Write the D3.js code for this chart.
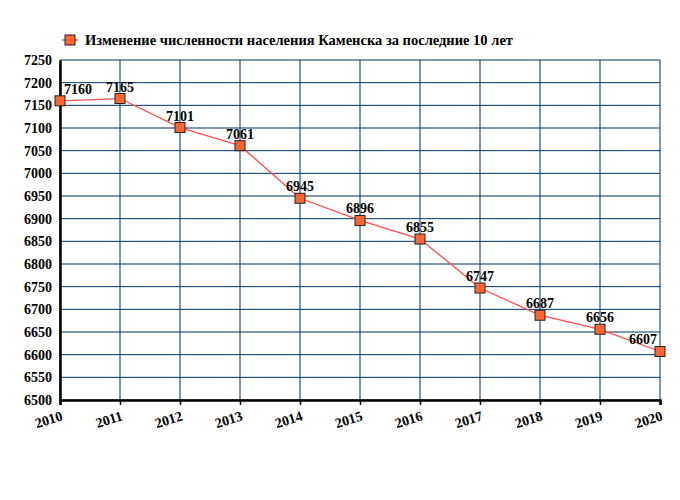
<!DOCTYPE html>
<html><head><meta charset="utf-8">
<script src="https://cdn.jsdelivr.net/npm/d3@7"></script>
<style>body{margin:0;background:#fff} svg text{font-family:"Liberation Serif","Times New Roman",serif !important;font-weight:bold}</style>
</head><body><svg id="c" width="680" height="500"></svg>
<script>
const years = [2010,2011,2012,2013,2014,2015,2016,2017,2018,2019,2020];
const population = [7160,7165,7101,7061,6945,6896,6855,6747,6687,6656,6607];
const yTicks = [6500,6550,6600,6650,6700,6750,6800,6850,6900,6950,7000,7050,7100,7150,7200,7250];
const seriesName = "Изменение численности населения Каменска за последние 10 лет";

const svg = d3.select("#c");
const L=60,R=660,T=60,B=400;
const x = d3.scaleLinear().domain([2010,2020]).range([L,R]);
const y = d3.scaleLinear().domain([6500,7250]).range([B,T]);

const g = svg.append("g");
g.selectAll(".hy").data(yTicks).enter().append("line")
  .attr("x1",L).attr("x2",R).attr("y1",d=>y(d)).attr("y2",d=>y(d))
  .attr("stroke","#003366").attr("stroke-width",1);
g.selectAll(".vx").data(years).enter().append("line")
  .attr("x1",d=>x(d)).attr("x2",d=>x(d)).attr("y1",T).attr("y2",B)
  .attr("stroke","#003366").attr("stroke-width",1);

const yAxis = d3.axisLeft(y).tickValues(yTicks).tickSize(0).tickPadding(8).tickFormat(d3.format("d"));
const ya = svg.append("g").attr("transform",`translate(${L},0)`).call(yAxis);
ya.select(".domain").attr("stroke","#000").attr("stroke-width",2.5);
ya.selectAll("text").attr("font-size",14).attr("fill","#000");

const xAxis = d3.axisBottom(x).tickValues(years).tickSize(5).tickFormat(d3.format("d"));
const xa = svg.append("g").attr("transform",`translate(0,${B})`).call(xAxis);
xa.select(".domain").attr("stroke","#000").attr("stroke-width",2.5);
xa.selectAll(".tick line").attr("stroke","#000").attr("stroke-width",1.5);
xa.selectAll("text").attr("font-size",14).attr("fill","#000")
  .attr("text-anchor","end").attr("dy",0).attr("y",0)
  .attr("transform","translate(3,20) rotate(-17)");

const data = years.map((yr,i)=>({yr,v:population[i]}));
svg.append("path").datum(data)
  .attr("d",d3.line().x(d=>x(d.yr)).y(d=>y(d.v)))
  .attr("fill","none").attr("stroke","#ff4d4d").attr("stroke-width",1.3);

svg.selectAll(".m").data(data).enter().append("rect")
  .attr("x",d=>x(d.yr)-5).attr("y",d=>y(d.v)-5).attr("width",10).attr("height",10)
  .attr("fill","#ff6633").attr("stroke","#222").attr("stroke-width",1);

svg.selectAll(".lb").data(data).enter().append("text")
  .attr("x",d=>{let c=x(d.yr); return Math.min(Math.max(c,L+18),R-17);})
  .attr("y",d=>y(d.v)-7)
  .attr("text-anchor","middle")
  .attr("font-size",14).attr("fill","#000")
  .text(d=>d.v);

svg.append("line").attr("x1",62).attr("x2",78).attr("y1",40).attr("y2",40).attr("stroke","#ff4d4d").attr("stroke-width",1.3);
svg.append("rect").attr("x",65).attr("y",35).attr("width",10).attr("height",10).attr("fill","#ff6633").attr("stroke","#222");
svg.append("text").attr("x",85).attr("y",45).attr("font-size",14.5).attr("fill","#000").text(seriesName);
</script></body></html>
